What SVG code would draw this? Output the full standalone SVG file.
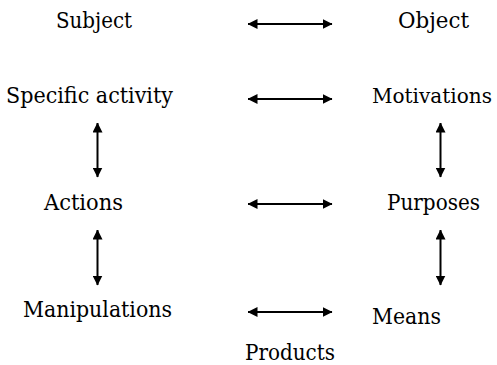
<svg xmlns="http://www.w3.org/2000/svg" width="497" height="365" viewBox="0 0 497 365">
<style>
.t text{font-family:'DejaVu Serif',serif;font-size:22px;fill:#000}
.t text.s{font-size:20.6px}
.c line{stroke:#000;stroke-width:2}
</style>
<defs>
<marker id="ah" viewBox="0 0 10 10" refX="9.5" refY="5" markerWidth="10" markerHeight="10" markerUnits="userSpaceOnUse" orient="auto-start-reverse">
<path d="M0,0 L10,5 L0,10 Z" fill="#000"/>
</marker>
</defs>
<rect width="497" height="365" fill="#fff"/>
<g class="t">
<g id="subject"><text x="56" y="28" textLength="76" lengthAdjust="spacingAndGlyphs">Subject</text></g>
<g id="object"><text x="398" y="28" textLength="71" lengthAdjust="spacingAndGlyphs">Object</text></g>
<g id="specific-activity"><text x="6" y="103" textLength="167" lengthAdjust="spacingAndGlyphs">Specific activity</text></g>
<g id="motivations"><text class="s" x="372" y="103" textLength="120" lengthAdjust="spacingAndGlyphs">Motivations</text></g>
<g id="actions"><text x="44" y="210" textLength="79" lengthAdjust="spacingAndGlyphs">Actions</text></g>
<g id="purposes"><text x="387" y="210" textLength="93" lengthAdjust="spacingAndGlyphs">Purposes</text></g>
<g id="manipulations"><text x="23" y="317" textLength="149" lengthAdjust="spacingAndGlyphs">Manipulations</text></g>
<g id="means"><text x="372" y="324" textLength="69" lengthAdjust="spacingAndGlyphs">Means</text></g>
<g id="products"><text x="245" y="360" textLength="90" lengthAdjust="spacingAndGlyphs">Products</text></g>
</g>
<g class="c" id="connectors">
<line x1="248" y1="24" x2="332" y2="24" marker-start="url(#ah)" marker-end="url(#ah)"/>
<line x1="248" y1="99" x2="332" y2="99" marker-start="url(#ah)" marker-end="url(#ah)"/>
<line x1="248" y1="204" x2="332" y2="204" marker-start="url(#ah)" marker-end="url(#ah)"/>
<line x1="248" y1="312" x2="332" y2="312" marker-start="url(#ah)" marker-end="url(#ah)"/>
<line x1="97.5" y1="123" x2="97.5" y2="177" marker-start="url(#ah)" marker-end="url(#ah)"/>
<line x1="97.5" y1="230" x2="97.5" y2="285" marker-start="url(#ah)" marker-end="url(#ah)"/>
<line x1="440.5" y1="123" x2="440.5" y2="177" marker-start="url(#ah)" marker-end="url(#ah)"/>
<line x1="440.5" y1="230" x2="440.5" y2="285" marker-start="url(#ah)" marker-end="url(#ah)"/>
</g>
</svg>
